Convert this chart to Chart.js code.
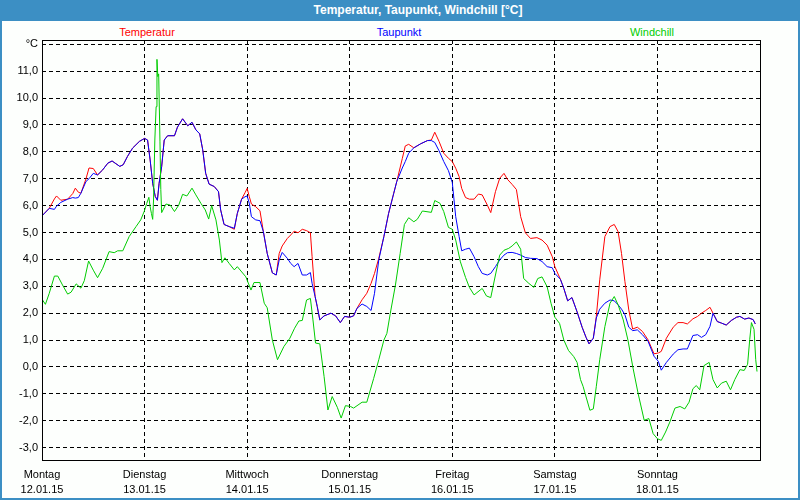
<!DOCTYPE html>
<html>
<head>
<meta charset="utf-8">
<script src="https://cdn.jsdelivr.net/npm/chart.js@4.4.1/dist/chart.umd.min.js"></script>
<style>
  body { margin: 0; background: #fff; }
  #frame {
    position: relative; width: 800px; height: 500px; box-sizing: border-box;
    border: 2px solid #3c8fc4; border-top: none; background: #fdfffd;
    font-family: "Liberation Sans", Arial, sans-serif; overflow: hidden;
  }
  #titlebar {
    position: absolute; left: 0; top: 0; width: 800px; height: 21px;
    background: #3c8fc4; color: #fff; font-weight: bold; font-size: 12px;
    line-height: 21px; text-align: center; padding-left: 32px; box-sizing: border-box;
  }
  .lbl { position: absolute; top: 25px; font-size: 11px; line-height: 14px; transform: translateX(-50%); white-space: nowrap; }
  canvas { position: absolute; left: -2px; top: 0; }
</style>
</head>
<body>
<div id="frame">
  <div id="titlebar">Temperatur, Taupunkt, Windchill [°C]</div>
  <div class="lbl" style="left:145px;color:#ff0000">Temperatur</div>
  <div class="lbl" style="left:397px;color:#0000ff">Taupunkt</div>
  <div class="lbl" style="left:650px;color:#00cc00">Windchill</div>
  <canvas id="chart" width="800" height="500"></canvas>
</div>
<script>
// hours since Monday 12.01.15 00:00
const dayNames = ["Montag", "Dienstag", "Mittwoch", "Donnerstag", "Freitag", "Samstag", "Sonntag"];
const dayDates = ["12.01.15", "13.01.15", "14.01.15", "15.01.15", "16.01.15", "17.01.15", "18.01.15"];
const yTicks = [-3, -2, -1, 0, 1, 2, 3, 4, 5, 6, 7, 8, 9, 10, 11, 12];

// Temperatur + Taupunkt share sample times
const tdHours = [0, 1.7, 2.9, 3.4, 4.4, 6, 7.2, 7.8, 8.5, 9.1, 10.3, 11, 12, 13, 14.2, 15.4, 16.4, 17.3, 18.2, 19,
  20, 21.2, 22.8, 24, 24.7, 25.3, 25.9, 26.5, 27, 27.4, 28, 28.6, 29.4, 31, 31.7, 32.9, 34.1, 35.1, 36, 36.9,
  37.6, 38.3, 39.1, 40.3, 41.3, 41.8, 42.6, 43.8, 45, 45.7, 46.7, 47.5, 48, 48.5, 49, 50, 51, 51.8, 52.7, 53.9,
  54.8, 55.5, 56.2, 57.4, 58.2, 59, 59.9, 60.9, 61.9, 62.8, 63.2, 63.9, 64.4, 65, 66, 67.6, 68.7, 69.8, 70.8, 72,
  72.9, 73.7, 74.9, 76, 77, 77.8, 78.8, 80, 81.1, 82.3, 83, 84.3, 85, 85.8, 87, 88.6, 90.2, 91.1, 91.9, 92.9,
  94, 95.1, 96, 96.8, 97.6, 98.2, 99.1, 100, 101.1, 102.1, 103, 104.2, 105, 106.1, 107.1, 108.1, 108.9, 110, 111, 112,
  113.1, 114.3, 115.8, 117, 118.2, 119.4, 120, 121.3, 122.1, 123, 124, 125.2, 126.4, 127.3, 128, 129, 129.7, 130.5, 131.7, 132.9,
  133.9, 134.8, 135.6, 136.4, 137.3, 138.2, 139.3, 140.5, 141.8, 143.2, 144.2, 144.9, 146.1, 147.7, 148.8, 150, 151, 152.3, 153.4, 154.3,
  155.3, 156.3, 157, 158, 159, 160.1, 161.3, 162.5, 163.3, 164.4, 165.4, 166.4, 166.9];
const temperatur = [5.62, 5.9, 6.25, 6.36, 6.2, 6.24, 6.45, 6.65, 6.5, 6.46, 7.0, 7.4, 7.38, 7.14, 7.33, 7.58, 7.66, 7.56, 7.46, 7.52,
  7.83, 8.14, 8.39, 8.5, 8.44, 7.7, 6.83, 6.34, 6.2, 6.83, 7.45, 8.44, 8.6, 8.6, 8.92, 9.23, 8.97, 9.1, 8.82, 8.67,
  8.08, 7.2, 6.8, 6.71, 6.52, 5.84, 5.3, 5.22, 5.12, 5.71, 6.24, 6.48, 6.64, 6.34, 6.06, 5.96, 5.81, 5.03, 4.22, 3.5,
  3.42, 4.22, 4.5, 4.78, 4.91, 5.05, 4.99, 5.12, 5.07, 4.99, 4.1, 2.62, 2.25, 1.75, 1.9, 2.0, 1.9, 1.65, 1.88, 1.85,
  1.9, 2.18, 2.5, 2.74, 3.11, 3.48, 4.04, 4.85, 5.71, 6.46, 6.89, 7.75, 8.22, 8.28, 8.15, 8.3, 8.42, 8.44, 8.73, 8.39,
  7.95, 7.76, 7.64, 7.39, 7.08, 6.64, 6.3, 6.24, 6.24, 6.43, 6.4, 6.02, 5.74, 6.52, 7.02, 7.2, 6.98, 6.79, 6.6, 5.59,
  4.99, 4.78, 4.81, 4.72, 4.53, 4.1, 3.73, 3.26, 2.92, 2.46, 2.58, 2.05, 1.47, 1.1, 0.86, 1.07, 1.88, 3.24, 4.85, 5.22,
  5.3, 5.03, 4.22, 3.17, 2.12, 1.41, 1.48, 1.32, 1.01, 0.49, 0.52, 0.58, 1.07, 1.48, 1.65, 1.65, 1.6, 1.79, 1.88, 2.0,
  2.1, 2.22, 2.0, 1.69, 1.63, 1.56, 1.73, 1.85, 1.88, 1.78, 1.82, 1.76, 1.6];
const taupunkt = [5.62, 5.9, 5.86, 5.98, 6.12, 6.24, 6.3, 6.28, 6.3, 6.46, 6.9, 7.0, 7.2, 7.14, 7.33, 7.58, 7.66, 7.56, 7.46, 7.52,
  7.83, 8.14, 8.39, 8.5, 8.44, 7.7, 6.83, 6.34, 6.2, 6.83, 7.45, 8.44, 8.6, 8.6, 8.92, 9.23, 8.97, 9.1, 8.82, 8.67,
  8.08, 7.2, 6.8, 6.71, 6.52, 5.84, 5.3, 5.22, 5.16, 5.71, 6.24, 6.33, 6.36, 6.09, 5.59, 5.47, 5.44, 5.03, 4.22, 3.5,
  3.42, 3.98, 4.26, 4.04, 3.85, 3.73, 3.85, 3.42, 3.42, 3.51, 3.11, 2.62, 2.25, 1.75, 1.9, 2.0, 1.9, 1.65, 1.88, 1.85,
  1.9, 2.18, 2.34, 2.25, 2.1, 2.74, 3.98, 4.85, 5.71, 6.46, 6.89, 7.4, 7.64, 7.95, 8.15, 8.3, 8.42, 8.42, 8.35, 8.04,
  7.64, 7.3, 6.86, 5.59, 4.85, 4.32, 4.38, 4.42, 4.1, 3.73, 3.48, 3.42, 3.48, 3.73, 3.98, 4.16, 4.25, 4.26, 4.22, 4.16,
  4.07, 4.04, 4.03, 3.92, 3.73, 3.69, 3.48, 3.26, 2.92, 2.46, 2.58, 2.05, 1.47, 1.1, 0.86, 1.07, 1.82, 2.15, 2.37, 2.49,
  2.46, 2.31, 2.15, 1.94, 1.48, 1.35, 1.38, 1.2, 0.96, 0.4, 0.21, -0.12, 0.17, 0.48, 0.64, 0.67, 0.67, 1.17, 1.2, 1.1,
  1.2, 1.51, 2.0, 1.69, 1.63, 1.56, 1.73, 1.85, 1.88, 1.78, 1.82, 1.76, 1.6];

const chillHours = [0, 0.8, 1.7, 2.9, 3.7, 4.8, 6, 6.8, 8, 9.1, 9.9, 10.9, 12, 13, 14.2, 15.7, 16.9, 17.7, 18.9, 20.4,
  22, 23.1, 23.9, 24.5, 25, 25.3, 25.6, 25.9, 26.1, 26.4, 26.7, 26.9, 27.1, 27.3, 27.6, 27.8, 28, 29, 30, 31,
  32, 32.9, 33.9, 35.1, 36, 37.2, 38.2, 39, 39.7, 40.7, 41.5, 42.1, 42.8, 43.8, 45, 45.7, 47.7, 48.9, 49.6, 51,
  52, 52.7, 53.9, 55.1, 56.6, 58, 59.1, 60.1, 60.9, 61.9, 62.8, 63.4, 64, 65, 66, 66.9, 67.9, 69.1, 70, 71,
  72.2, 72.9, 74.9, 76, 77.6, 78.8, 80, 80.7, 81.5, 82.7, 83.8, 84.8, 85.8, 87, 87.8, 89, 91.1, 91.9, 93.1, 94,
  95.1, 96, 96.8, 97.9, 99.1, 100, 101.1, 103, 104, 105, 106.1, 107.1, 108.1, 109.2, 110, 111, 112, 112.7, 113.9, 115.1,
  116, 117, 118.2, 119.1, 120, 121.1, 122.1, 123.2, 124.4, 125.2, 126, 126.6, 128.2, 129, 129.7, 130.5, 131.7, 132.9, 133.9, 134.8,
  136, 137.1, 138.3, 139.5, 140.9, 142, 143, 144, 144.9, 145.9, 146.9, 148.1, 149.3, 150.4, 151.4, 152.3, 153.1, 153.9, 154.9, 156.1,
  157, 158, 159, 160.1, 161.1, 162.1, 163.3, 164.3, 165.1, 165.6, 166, 166.6, 167, 167.3];
const windchill = [2.52, 2.33, 2.74, 3.38, 3.38, 3.05, 2.71, 2.78, 3.09, 2.93, 3.21, 3.94, 3.6, 3.32, 3.67, 4.29, 4.25, 4.32, 4.32, 4.85,
  5.22, 5.47, 5.78, 6.08, 6.31, 5.96, 5.71, 5.49, 6.21, 8.44, 9.68, 11.44, 10.8, 10.9, 8.4, 6.6, 5.74, 6.06, 6.02, 5.78,
  6.02, 6.42, 6.36, 6.65, 6.4, 6.08, 5.84, 5.5, 6.0, 5.47, 4.72, 3.88, 4.06, 3.85, 3.61, 3.73, 3.35, 2.86, 3.14, 3.14,
  2.37, 2.2, 1.0, 0.27, 0.76, 1.07, 1.44, 1.71, 1.73, 2.49, 2.55, 1.75, 0.89, 0.86, -0.35, -1.6, -1.1, -1.5, -1.9, -1.44,
  -1.47, -1.53, -1.31, -1.31, -0.43, 0.27, 1.0, 1.25, 2.0, 3.05, 4.22, 5.3, 5.55, 5.4, 5.49, 5.8, 5.75, 6.19, 6.09, 5.78,
  5.19, 5.12, 4.72, 3.91, 3.33, 2.96, 2.68, 2.92, 2.64, 2.58, 3.42, 4.16, 4.34, 4.41, 4.5, 4.65, 4.38, 3.29, 3.11, 2.96,
  3.29, 3.35, 2.98, 2.37, 1.85, 1.62, 1.0, 0.61, 0.39, 0.17, -0.47, -0.72, -1.61, -1.56, -0.72, 0.27, 1.5, 2.37, 2.62, 2.31,
  1.75, 1.0, -0.05, -1.0, -1.98, -1.92, -2.48, -2.67, -2.73, -2.42, -2.05, -1.53, -1.47, -1.56, -1.31, -0.81, -0.69, -0.85, 0.05, 0.17,
  -0.47, -0.78, -0.6, -0.53, -0.85, -0.47, -0.1, -0.13, 0.1, 1.03, 1.65, 1.4, 0.27, -0.17];

const toPoints = (xs, ys) => xs.map((x, i) => ({ x, y: ys[i] }));

const framePlugin = {
  id: "frame",
  afterDraw(chart) {
    const { ctx, chartArea: a } = chart;
    ctx.save();
    ctx.strokeStyle = "#000";
    ctx.lineWidth = 1;
    ctx.strokeRect(Math.round(a.left) + 0.5, Math.round(a.top) + 0.5,
      Math.round(a.right - a.left), Math.round(a.bottom - a.top));
    ctx.restore();
  },
};

const lineDs = (label, data, color, order) => ({
  label, data, borderColor: color, backgroundColor: color,
  borderWidth: 1, pointRadius: 0, tension: 0, order,
});

new Chart(document.getElementById("chart"), {
  type: "line",
  data: {
    datasets: [
      lineDs("Temperatur", toPoints(tdHours, temperatur), "#ff0000", 2),
      lineDs("Taupunkt", toPoints(tdHours, taupunkt), "#0000ff", 1),
      lineDs("Windchill", toPoints(chillHours, windchill), "#00cc00", 0),
    ],
  },
  options: {
    responsive: false,
    animation: false,
    devicePixelRatio: 1,
    layout: { padding: { left: 2, top: 40, right: 40, bottom: 0 } },
    plugins: { legend: { display: false }, tooltip: { enabled: false } },
    scales: {
      x: {
        type: "linear",
        min: 0,
        max: 168,
        afterFit: (s) => { s.height = 40; },
        afterBuildTicks: (s) => { s.ticks = [0, 24, 48, 72, 96, 120, 144, 168].map((v) => ({ value: v })); },
        grid: { color: "#000", lineWidth: 1, drawTicks: false },
        border: { display: false, dash: [4, 3] },
        ticks: {
          maxRotation: 0,
          autoSkip: false,
          padding: 8,
          color: "#000",
          font: { family: "Liberation Sans", size: 11, lineHeight: 1.32 },
          callback: (v) => {
            const i = Math.round(v / 24);
            return i < dayNames.length ? [dayNames[i], dayDates[i]] : "";
          },
        },
      },
      y: {
        min: -3.46,
        max: 12.16,
        afterFit: (s) => { s.width = 40; },
        afterBuildTicks: (s) => { s.ticks = yTicks.map((v) => ({ value: v })); },
        grid: { color: "#000", lineWidth: 1, drawTicks: false },
        border: { display: false, dash: [4, 3] },
        ticks: {
          padding: 4,
          color: "#000",
          font: { family: "Liberation Sans", size: 11 },
          callback: (v) => (v === 12 ? "°C" : v.toFixed(1).replace(".", ",")),
        },
      },
    },
  },
  plugins: [framePlugin],
});
</script>
</body>
</html>
